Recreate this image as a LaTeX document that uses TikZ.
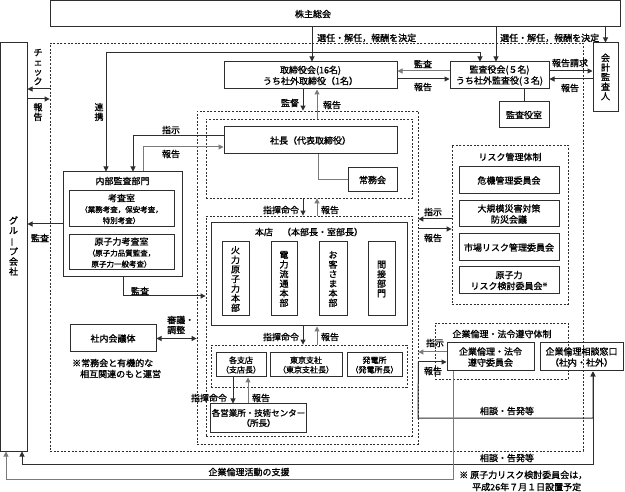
\documentclass[tikz,border=0pt]{standalone}
\usepackage{fontspec}
\setmainfont{Noto Sans CJK JP}[FakeBold=1.2]
\usepackage{graphicx}
\usetikzlibrary{arrows.meta}
\definecolor{lc}{HTML}{2e2e2e}
\definecolor{lg}{HTML}{7a7a7a}
\tikzset{
  box/.style={draw=lc, line width=1pt, inner sep=1pt, align=center, font=\fontsize{9}{11}\selectfont},
  dbox/.style={draw=lc, line width=0.8pt, dash pattern=on 2pt off 1.6pt, inner sep=0pt},
  conn/.style={draw=lc, line width=1pt},
  gconn/.style={draw=lg, line width=1pt},
  tip/.style={-{Triangle[length=5pt,width=5pt]}},
  tips/.style={{Triangle[length=5pt,width=5pt]}-{Triangle[length=5pt,width=5pt]}},
  lbl/.style={font=\fontsize{9}{10}\selectfont, inner sep=0pt},
  vlbl/.style={font=\fontsize{9}{9.6}\selectfont, inner sep=0pt, align=center},
}
\newcommand{\mkbox}[7]{\node[#2, minimum width={(#5-#3)*1pt}, minimum height={(#6-#4)*1pt}] (#1) at ({(#3+#5)/2},{(#4+#6)/2}) {#7};}
\begin{document}
\begin{tikzpicture}[x=1pt,y=-1pt]
\useasboundingbox (0,0) rectangle (625,492);
\fill[white] (0,0) rectangle (625,492);

% ---- boxes
\mkbox{kabu}{box}{50}{1}{620}{27}{}
\node[lbl] (kabut) at (313,14) {株主総会};
\mkbox{bigdash}{dbox}{50}{43}{583}{451}{}
\mkbox{group}{box}{0.6}{43}{27}{451}{}
\node[vlbl,font=\fontsize{9}{10}\selectfont] (groupt) at (13.5,246) {グ\\ル\\\rotatebox[origin=c]{90}{ー}\\プ\\会\\社};
\mkbox{kaikei}{box}{593}{43}{618}{112}{}
\node[vlbl] (kaikeit) at (605.5,77) {会\\計\\監\\査\\人};
\mkbox{tori}{box}{224}{62}{397}{89}{取締役会(16名)\\うち社外取締役（1名）}
\mkbox{kansa}{box}{450}{62}{549}{89}{監査役会(５名)\\うち社外監査役(３名)}
\mkbox{kansashitsu}{box}{499}{102}{549}{128}{監査役室}

\mkbox{kantoku}{dbox}{197}{111}{418}{444}{}
\mkbox{shachoD}{dbox}{206}{119}{412}{198}{}
\mkbox{shacho}{box}{224}{127}{397}{154}{社長（代表取締役）}
\mkbox{jomu}{box}{348}{168}{397}{192}{常務会}

\mkbox{naibu}{box}{63}{172}{182}{277}{}
\node[lbl] (naibut) at (122.5,181) {内部監査部門};
\mkbox{kosa}{box}{69}{191}{174}{227}{考査室\\{\fontsize{7.5}{9}\selectfont （業務考査，保安考査，}\\{\fontsize{7.5}{9}\selectfont 特別考査）}}
\mkbox{genshi}{box}{69}{235}{174}{270}{原子力考査室\\{\fontsize{7.5}{9}\selectfont （原子力品質監査，}\\{\fontsize{7.5}{9}\selectfont 原子力一般考査）}}

\mkbox{honD}{dbox}{206}{216}{412}{436}{}
\mkbox{hon}{box}{211}{223}{407}{326}{}
\node[lbl] (hont) at (309,232) {本店　（本部長・室部長）};
\mkbox{v1}{box}{222}{242}{249}{316}{}
\mkbox{v2}{box}{271}{242}{297}{316}{}
\mkbox{v3}{box}{319}{242}{347}{316}{}
\mkbox{v4}{box}{368}{242}{395}{316}{}
\node[vlbl] (v1t) at (v1) {火\\力\\原\\子\\力\\本\\部};
\node[vlbl] (v2t) at (v2) {電\\力\\流\\通\\本\\部};
\node[vlbl] (v3t) at (v3) {お\\客\\さ\\ま\\本\\部};
\node[vlbl] (v4t) at (v4) {間\\接\\部\\門};

\mkbox{brD}{dbox}{211}{345}{407}{387}{}
\mkbox{br1}{box,font=\fontsize{8}{9.5}\selectfont}{216}{353}{266}{377}{各支店\\（支店長）}
\mkbox{br2}{box,font=\fontsize{8}{9.5}\selectfont}{270}{353}{342}{377}{東京支社\\（東京支社長）}
\mkbox{br3}{box,font=\fontsize{8}{9.5}\selectfont}{347}{353}{402}{377}{発電所\\（発電所長）}
\mkbox{eigyo}{box,font=\fontsize{8.5}{10}\selectfont}{211}{404}{306}{432}{各営業所・技術センター\\（所長）}

\mkbox{shanai}{box}{70}{325}{156}{352}{社内会議体}

\mkbox{riskD}{dbox}{452}{145}{568}{304}{}
\node[lbl] (riskt) at (510,157) {リスク管理体制};
\mkbox{r1}{box}{459}{167}{559}{194}{危機管理委員会}
\mkbox{r2}{box}{459}{201}{559}{227}{大規模災害対策\\防災会議}
\mkbox{r3}{box}{459}{234}{559}{261}{市場リスク管理委員会}
\mkbox{r4}{box}{459}{267}{559}{294}{原子力\\リスク検討委員会\raisebox{3pt}{\fontsize{5}{5}\selectfont ※}}

\mkbox{rinriD}{dbox}{435}{323}{568}{379}{}
\node[lbl] (rinrit) at (502,334) {企業倫理・法令遵守体制};
\mkbox{rinri}{box}{447}{343}{534}{371}{企業倫理・法令\\遵守委員会}
\mkbox{madoguchi}{box}{540}{343}{623}{371}{企業倫理相談窓口\\（社内・社外）}

% ---- helper coordinates
\coordinate (xA) at (312,0);
\coordinate (xB) at (496,0);
\coordinate (r1c) at (106,53);
\coordinate (r2c) at (480,53);
\coordinate (y71) at (0,71);
\coordinate (y79) at (0,79);
\coordinate (x303) at (303,0);
\coordinate (x317) at (317,0);
\coordinate (x318) at (318,0);
\coordinate (s1) at (133,136);
\coordinate (s2) at (143,147);
\coordinate (y89) at (0,89);
\coordinate (y99) at (0,99);
\coordinate (y224) at (0,224);
\coordinate (k1) at (123,296);
\coordinate (x233) at (233,0);
\coordinate (x248) at (248,0);
\coordinate (y219) at (0,219);
\coordinate (y229) at (0,229);
\coordinate (y352) at (0,352);
\coordinate (y362) at (0,362);
\coordinate (c1) at (418,418);
\coordinate (x593) at (593,0);
\coordinate (c2) at (22,464);
\coordinate (c3) at (453,479);
\coordinate (c4) at (6,479);

% ---- connectors
\draw[conn,tip] (kabu.south -| xA) -- (tori.north -| xA);
\draw[conn,tip] (kabu.south -| xB) -- (kansa.north -| xB);
\draw[conn,tip] (kabu.south -| kaikei.north) -- (kaikei.north);
\draw[conn,tips] (naibu.north -| r1c) -- (r1c) -- (r2c) -- (kansa.north -| r2c);
\draw[gconn,tip] (kansa.west |- y71) -- (tori.east |- y71);
\draw[conn,tip] (tori.east |- y79) -- (kansa.west |- y79);
\draw[conn,tip] (kansa.east |- y71) -- (kaikei.west |- y71);
\draw[conn,tip] (kaikei.west |- y79) -- (kansa.east |- y79);
\draw[conn] (kansa.south -| kansashitsu.north) -- (kansashitsu.north);
\draw[conn,tip] (tori.south -| x303) -- (kantoku.north -| x303);
\draw[gconn,tip] (shachoD.north -| x317) -- (tori.south -| x317);
\draw[gconn] (shacho.south -| x318) |- (jomu.west);
\draw[conn,tip] (shacho.west |- s1) -- (s1) -- (naibu.north -| s1);
\draw[gconn,tip] (naibu.north -| s2) -- (s2) -- (shacho.west |- s2);
\draw[conn,tip] (bigdash.west |- y89) -- (group.east |- y89);
\draw[conn,tip] (group.east |- y99) -- (bigdash.west |- y99);
\draw[conn,tip] (naibu.west |- y224) -- (group.east |- y224);
\draw[conn,tip] (naibu.south -| k1) -- (k1) -- (honD.west |- k1);
\draw[conn,tip] (shachoD.south -| x303) -- (honD.north -| x303);
\draw[gconn,tip] (honD.north -| x317) -- (shachoD.south -| x317);
\draw[conn,tip] (hon.south -| x303) -- (brD.north -| x303);
\draw[gconn,tip] (brD.north -| x317) -- (hon.south -| x317);
\draw[conn,tip] (br1.south -| x233) -- (eigyo.north -| x233);
\draw[gconn,tip] (eigyo.north -| x248) -- (br1.south -| x248);
\draw[conn,tips] (shanai.east) -- (kantoku.west |- shanai.east);
\draw[conn,tip] (riskD.west |- y219) -- (kantoku.east |- y219);
\draw[conn,tip] (kantoku.east |- y229) -- (riskD.west |- y229);
\draw[gconn,tip] (rinri.west |- y352) -- (kantoku.east |- y352);
\draw[conn,tip] (kantoku.east |- y362) -- (rinri.west |- y362);
\draw[conn,tip] (kantoku.east |- y362) -- (c1) -- (c1 -| x593) -- (madoguchi.south -| x593);
\draw[conn,tips] (group.south -| c2) -- (c2) -- (c2 -| x593) -- (madoguchi.south -| x593);
\draw[gconn,tip] (rinri.south -| c3) -- (c3) -- (c4) -- (group.south -| c4);

% ---- labels
\node[lbl,anchor=west] (l1) at (317,38) {選任・解任，報酬を決定};
\node[lbl,anchor=west] (l2) at (500,38) {選任・解任，報酬を決定};
\node[lbl] (l3) at (423,64) {監査};
\node[lbl] (l4) at (423,87) {報告};
\node[lbl] (l5) at (570,63) {報告請求};
\node[lbl] (l6) at (570,88) {報告};
\node[lbl] (l7) at (290,103) {監督};
\node[lbl] (l8) at (332,105) {報告};
\node[vlbl] (l9) at (99,112) {連\\携};
\node[vlbl] (l10) at (38,67) {チ\\ェ\\ッ\\ク};
\node[vlbl] (l11) at (38,112) {報\\告};
\node[lbl] (l12) at (171,130) {指示};
\node[lbl] (l13) at (171,154) {報告};
\node[lbl] (l14) at (40,238) {監査};
\node[lbl] (l15) at (140,291) {監査};
\node[lbl] (l16) at (281,210) {指揮命令};
\node[lbl] (l17) at (330,210) {報告};
\node[lbl] (l18) at (281,337) {指揮命令};
\node[lbl] (l19) at (330,337) {報告};
\node[lbl] (l20) at (209,398) {指揮命令};
\node[lbl] (l21) at (261,398) {報告};
\node[lbl,align=left,anchor=west] (l22) at (167,325) {審議・\\調整};
\node[lbl] (l23) at (433,212) {指示};
\node[lbl] (l24) at (433,238) {報告};
\node[lbl] (l25) at (435,343) {指示};
\node[lbl] (l26) at (433,371) {報告};
\node[lbl] (l27) at (507,411) {相談・告発等};
\node[lbl] (l28) at (507,458) {相談・告発等};
\node[lbl] (l29) at (249,472) {企業倫理活動の支援};
\node[lbl,anchor=west] (l30) at (72,363) {※常務会と有機的な};
\node[lbl,anchor=west] (l31) at (80,374) {相互関連のもと運営};
\node[lbl,anchor=west] (l32) at (459,475) {※ 原子力リスク検討委員会は，};
\node[lbl,anchor=west] (l33) at (472,487) {平成26年７月１日設置予定};
\end{tikzpicture}
\end{document}
